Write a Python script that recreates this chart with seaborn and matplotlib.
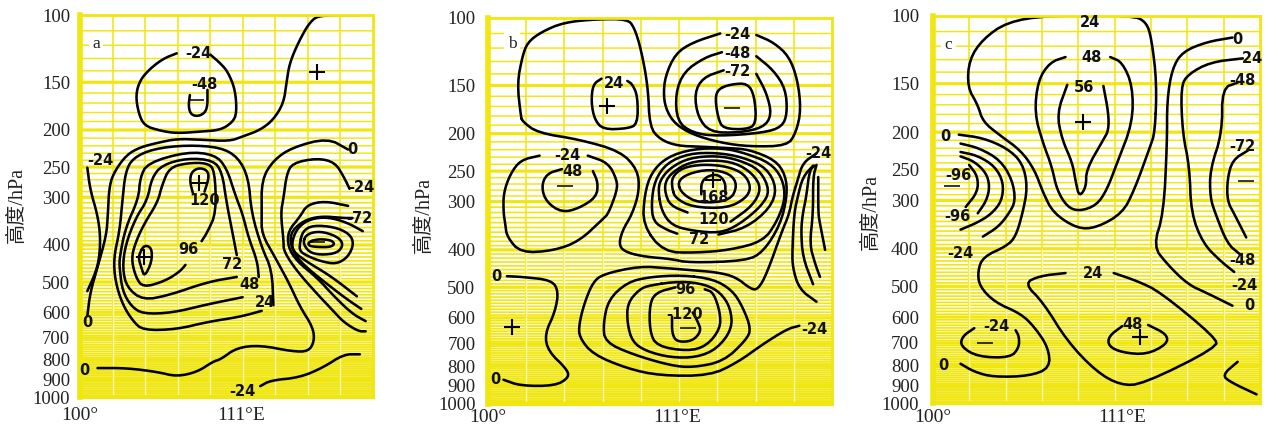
import numpy as np
import pandas as pd
import matplotlib
matplotlib.use("Agg")
import matplotlib.pyplot as plt
import seaborn as sns

# ---- contour traces: (longitude, pressure hPa) ----
A01 = [(106.6,126),(105.7,130),(104.8,138),(104.1,148),(103.8,162),(104.0,181),(104.4,195),(105.5,201),(106.6,204),(108.2,202),(109.6,200),(110.4,191),(110.7,181),(110.6,157),(110.1,141),(109.6,134),(108.9,127)]
A02 = [(107.5,162),(107.4,174),(107.6,183),(108.2,184),(108.7,177),(108.7,157)]
A03 = [(119.1,100),(116.4,100),(115.7,104),(114.9,118),(114.3,134),(114.1,150),(113.9,170),(113.2,188),(112.3,200),(111.1,208),(110.2,214),(108.2,212),(106.6,211),(105.3,216),(104.1,222),(103.2,232),(102.4,255),(102.0,279),(101.9,334),(101.8,377),(101.2,457),(100.7,532),(100.5,614)]
A04 = [(100.5,251),(100.7,287),(101.2,334),(101.4,382),(101.3,438),(101.0,479),(100.5,528)]
A05 = [(113.2,575),(113.1,465),(112.4,406),(111.7,329),(111.5,267),(110.8,236),(109.6,222),(107.3,219),(105,224),(103.6,237),(103.1,258),(102.9,305),(102.7,368),(102.3,432),(102.4,497),(102.9,572),(103.6,632),(104.3,669),(106.6,665),(108.7,636),(110.9,617),(112.4,595)]
A06 = [(112.2,485),(112.1,441),(111.5,382),(111.1,332),(110.6,296),(110,251),(109.2,232),(107.3,228),(104.6,244),(104.1,267),(104,302),(103.1,361),(102.7,432),(102.7,460),(102.9,528),(103.5,579),(104.3,606),(106.3,602),(108.7,572),(111.1,548)]
A07 = [(110.7,425),(110.4,370),(110,309),(109.7,258),(109.1,240),(107.3,237),(105.6,247),(104.9,267),(104.6,305),(103.8,340),(103.1,400),(102.9,460),(103.2,517),(104.3,558),(106.1,541),(108.7,500),(110.7,485)]
A08 = [(108.3,391),(108.7,370),(109.3,329),(109.2,255),(108.7,244),(107.3,244),(106.1,251),(105.6,279),(105.3,309),(104.4,351),(103.8,393),(103.5,434),(103.8,485),(104.3,517),(105.8,497),(106.8,470),(107.2,451)]
A09 = [(107.7,292),(107.5,273),(107.6,258),(108.1,251),(108.7,255),(108.8,267),(108.5,290)]
A10 = [(104.1,418),(104.4,400),(104.9,407),(104.9,443),(104.4,485),(104.2,460),(104,434),(104.1,418)]
A11 = [(118.3,225),(116.9,210),(114.5,222),(113.2,240),(112.4,270),(112.4,332),(112.4,374),(113.3,430),(114.3,506),(115,579),(115.9,657),(116,714),(115.6,760),(114.5,760),(112.3,732),(110.7,743),(109.6,797),(109.1,807),(108,860),(106.6,884),(105.3,860),(103.2,840),(101.2,840)]
A12 = [(112.3,937),(113,905),(115,889),(116.6,837),(118,773),(119.1,773)]
A13 = [(115.6,393),(116.2,386),(117.1,388),(117.4,397),(117.1,405),(116.2,405),(115.6,402),(115.6,393)]
A14 = [(115.2,393),(115.5,374),(116.4,368),(117.5,379),(118,397),(117.6,420),(116.4,425),(115.6,417),(115.2,393)]
A15 = [(115,397),(115.2,368),(115.9,355),(117.4,359),(118.4,374),(118.7,397),(118.3,430),(117.5,449),(116.4,441),(115.5,427),(115,415),(115,397)]
A16 = [(119.3,368),(118.2,349),(116.9,338),(115.7,342),(114.9,359),(114.5,386),(114.5,415),(115.5,443),(117.1,482),(118.9,545)]
A17 = [(118.6,340),(118,340),(116.4,336),(115.2,346),(114.3,374),(114.5,415),(115.2,449),(116.6,497),(118.2,554),(119.2,588)]
A18 = [(118.3,316),(116.7,307),(115.5,314),(115,338),(114.2,368),(114.2,405),(114.8,441),(116.2,488),(117.4,548),(118.6,606),(119.5,633)]
A19 = [(118.4,285),(118,265),(117.4,243),(116.2,237),(114.5,244),(114.1,262),(113.9,300),(113.7,330),(113.9,391),(113.9,415),(114.8,468),(116.2,538),(117.3,596),(118,637),(119,673),(119.5,673)]

B01 = [(102,186),(101.9,179),(101.7,148),(102,126),(102.3,116),(103.1,109),(104.4,103),(106.3,101),(108.1,101),(108.5,106),(108.9,121),(109.3,151),(109.4,192),(110,207),(111,215),(112.3,216),(114.1,218),(115.2,220),(116.7,234),(117.3,256),(117.4,289),(117,344),(116,405),(115,427),(111.7,432),(110.6,422),(109.2,417),(108.1,407),(107.6,391),(107.8,357),(108.4,322),(108.8,281),(108.7,248),(107.7,222),(105.3,207),(102.9,199),(102,186)]
B02 = [(119.1,225),(118.3,238),(118,264),(117.7,292),(117.5,324),(117.1,357),(116.2,462),(115.7,506),(115.3,506),(114.4,470),(113.3,457),(111.7,451),(110.4,446),(108.8,441),(106.7,462),(106.1,485),(105.6,550),(105.3,622),(105.3,673),(106.1,746),(108.1,812),(110,847),(112.9,847),(114.5,783),(116,701),(117.4,641),(118.1,629)]
B03 = [(109,345),(110.2,405),(112.1,407),(114.1,400),(116,380),(116.8,338),(117.3,294),(117.1,260),(116.4,238),(115,225),(113.7,218),(111.9,219),(110.4,230),(109.5,252),(109.1,287),(109,345)]
B04 = [(113.4,365),(115,351),(116.4,312),(116.8,277),(116.2,245),(114.8,230),(113.3,224),(111.7,225),(110.4,238),(109.7,264),(109.5,301),(109.6,338),(110.4,355),(111,363)]
B05 = [(109.9,283),(110.1,318),(110.7,346),(111.9,357),(113.5,362),(114.6,344),(115.9,308),(116.4,281),(115.8,248),(114.6,234),(113.3,228),(111.7,231),(110.6,245),(110,264),(109.9,283)]
B06 = [(111.6,320),(110.6,307),(110.3,285),(110.3,267),(110.7,252),(111.7,237),(113.1,234),(114.4,238),(115.4,254),(115.9,277),(115.4,307),(114.1,338)]
B07 = [(110.7,277),(110.9,294),(111.9,310),(113.9,312),(115,294),(115.3,275),(114.9,254),(113.9,243),(112.5,240),(111.3,245),(110.7,259),(110.7,277)]
B08 = [(111,267),(111.3,287),(112.3,303),(114.1,298),(114.5,272),(114.1,254),(112.9,247),(111.6,254),(111,267)]
B09 = [(112.4,287),(112.4,267),(112.8,257),(113.4,255),(113.8,267),(113.8,285)]
B10 = [(115.6,111),(116.6,116),(117.5,126),(118,145),(118.2,174),(117.9,199),(117.4,215),(115.2,216),(113.5,211),(111.9,201),(110.9,189),(110.4,175),(110.2,160),(110.3,142),(110.9,124),(111.9,116),(113.5,110)]
B11 = [(115.6,126),(116.6,137),(117.3,153),(117.4,177),(117.1,192),(116,199),(113.3,203),(111.9,199),(111,186),(110.9,157),(111.4,138),(112.6,127),(113.6,123)]
B12 = [(115.6,140),(116.2,157),(116.5,179),(116,193),(114.5,199),(112.9,198),(112.2,181),(112,157),(112.5,143),(113.7,137)]
B13 = [(113.4,153),(114.1,149),(115.1,148),(115.5,160),(115.6,189),(115,195),(113.7,194),(113.4,184),(113.2,162),(113.4,153)]
B14 = [(106.6,144),(106.1,149),(106,166),(106.2,184),(106.7,195),(108.1,194),(108.7,189),(108.7,160),(108.4,149),(108.1,146)]
B15 = [(105.8,228),(107,238),(107.5,264),(107.5,281),(107,322),(106.7,332),(105.3,380),(103.8,402),(101.9,407),(101.1,370),(101,342),(100.9,320),(100.9,285),(101.3,254),(101.9,234),(103,228)]
B16 = [(106.1,250),(106.4,268),(106.3,292),(105.3,312),(104.3,320),(103.4,301),(103.1,275),(103.4,254),(104.3,247)]
B17 = [(101.1,468),(102,470),(103.7,479),(104.1,512),(103.9,579),(103.3,661),(103.5,732),(104.6,816),(104.7,857),(103.9,900),(101.9,900),(100.9,868)]
B18 = [(111.3,465),(113.1,476),(114.2,509),(114.8,561),(115.3,641),(115,685),(113.7,778),(111.9,807),(110.6,797),(108.4,746),(106.8,693),(106.7,622),(107,538),(108.1,485),(109.4,470),(111.3,465)]
B19 = [(109.4,494),(111.2,482),(112.6,491),(113.5,515),(114.1,565),(114.2,641),(113.3,723),(112.1,760),(110.6,760),(109.2,732),(108.4,693),(108.1,622),(108.1,550),(108.8,506),(109.4,494)]
B20 = [(110.9,500),(109.8,515),(109.4,550),(109.4,649),(109.8,710),(111.6,732),(112.7,710),(113.5,641),(113.5,581),(113.1,515),(112.6,506)]
B21 = [(110.7,596),(110.7,661),(111,693),(111.9,689),(112.4,649),(112.2,614),(111.9,581)]
B22 = [(118.9,242),(118.3,259),(118,292),(117.8,322),(117.7,393),(117.7,443),(118.1,506),(119.1,545)]
B23 = [(119,242),(118.7,248),(118.5,292),(118.3,322),(118.2,357),(118.3,418),(118.9,491)]
B24 = [(119.1,241),(118.9,259),(118.9,322),(118.7,386),(119,432),(119.3,470)]
B25 = [(119.2,259),(119.2,322),(119.3,342),(119.6,400)]

C01 = [(112.9,200),(113,149),(112.7,115),(112.4,104),(111.6,100),(106.6,100),(104.3,104),(102.9,115),(102.1,130),(102,153),(102.6,170),(102.9,188),(103.9,204),(105.1,223),(105.9,250),(106.4,287),(107,324),(108.4,355),(109.5,353),(111,324),(111.7,282),(112.6,219),(112.9,200)]
C02 = [(107.7,128),(106.8,132),(106.1,147),(105.9,179),(106.4,214),(106.9,245),(107.2,282),(107.8,312),(108.5,320),(109.5,309),(110.1,282),(110.7,240),(111.6,189),(111.6,152),(111,132),(110.3,128)]
C03 = [(107.8,151),(107.2,179),(107.5,209),(108.1,240),(108.3,270),(108.5,294),(108.9,277),(108.9,250),(109.9,209),(110.2,198),(110.2,179),(109.9,152)]
C04 = [(117.4,114),(115.9,117),(114.5,124),(113.9,137),(113.6,165),(113.6,214),(113.4,324),(112.8,394),(113.6,438),(114.8,494),(115.9,520),(117.4,561)]
C05 = [(118,129),(116.1,132),(114.8,142),(114.4,153),(114.5,201),(114.9,245),(115,324),(115.7,388),(116.7,430),(117.5,459)]
C06 = [(117.7,149),(116.8,154),(116.8,201),(116.1,250),(116.1,294),(116.4,324),(117.1,388),(117.8,412)]
C07 = [(118.3,223),(117.4,236),(117.1,265),(117.1,301),(117.5,325),(118.2,374)]
C08 = [(101.5,203),(102.9,207),(104.3,220),(105.2,240),(105.5,277),(105.2,325),(104.8,372),(104.3,393),(102.9,420),(102.6,457),(102.7,500),(103.6,550),(105.1,588),(105.9,637),(106.7,719),(106.8,812),(105.6,852),(103.5,857),(102.4,831),(101.6,792)]
C09 = [(101.6,214),(102.7,220),(103.9,236),(104.6,265),(104.8,301),(104.4,325),(103.8,351),(102.9,372)]
C10 = [(101.6,225),(102.6,230),(103.6,245),(104.1,270),(104,301),(103.4,325),(102.6,342),(101.6,357)]
C11 = [(101.6,231),(102.4,238),(103.1,255),(103.3,277),(103.1,301),(102.6,324)]
C12 = [(102.1,243),(102.6,260),(102.6,285),(101.9,312)]
C13 = [(107.7,462),(106.2,470),(105.3,491),(106.4,550),(107.8,693),(109.5,831),(110.9,900),(112.2,894),(116.5,719),(116.4,677),(113.2,517),(111.9,485),(110.5,462)]
C14 = [(111,633),(110.2,673),(110.2,714),(111,741),(112.4,750),(113.6,705),(113.6,665),(112.5,629)]
C15 = [(102.4,641),(101.7,673),(101.6,714),(102.6,760),(104.5,764),(105,719),(105,673),(104.8,649)]
C16 = [(117.7,783),(116.8,847),(117.3,884),(118.8,950)]

CONTOURS_A = [A01,A02,A03,A04,A05,A06,A07,A08,A09,A10,A11,A12,A13,A14,A15,A16,A17,A18,A19]
CONTOURS_B = [B01,B02,B03,B04,B05,B06,B07,B08,B09,B10,B11,B12,B13,B14,B15,B16,B17,B18,B19,B20,B21,B22,B23,B24,B25]
CONTOURS_C = [C01,C02,C03,C04,C05,C06,C07,C08,C09,C10,C11,C12,C13,C14,C15,C16]

# ---- contour labels: (text, longitude, pressure) ----
LABELS_A = [("-24",108.1,126),("-48",108.5,152),("-24",101.4,240),("120",108.5,305),("96",107.4,412),("72",110.4,451),("48",111.6,509),("24",112.6,565),("0",118.6,225),("-24",119.2,283),("-72",119.1,340),("0",100.5,640),("0",100.3,850),("-24",111.1,970)]
LABELS_B = [("-24",114.5,111),("-48",114.5,124),("-72",114.5,138),("24",107.3,148),("-24",104.6,228),("48",104.9,250),("168",113.1,292),("120",113.1,334),("72",112.3,377),("96",111.5,506),("-120",111.4,588),("-24",119.2,225),("-24",119,645),("0",100.5,468),("0",100.4,868)]
LABELS_C = [("24",109.1,104),("48",109.2,128),("56",108.8,153),("0",117.7,115),("-24",118.4,129),("-48",118,147),("-72",118,218),("0",100.7,205),("-96",101.5,258),("-96",101.4,330),("-24",101.6,412),("-48",118,430),("-24",118.1,497),("0",118.4,560),("24",109.3,462),("48",111.6,627),("-24",103.7,636),("0",100.6,800)]

# ---- high / low symbols: (longitude, pressure) ----
PLUS_A = [(116.2,141),(108.1,275),(104.4,430)]
DASH_A = [(107.9,167),(116.2,393)]
PLUS_B = [(106.9,170),(101.4,633),(113.1,264)]
DASH_B = [(114.2,172),(104.5,273),(111.6,637)]
PLUS_C = [(108.7,188),(112,677)]
DASH_C = [(101.1,275),(118.2,268),(103,701)]

PANEL_NAMES = ["a", "b", "c"]
PANEL_NAME_POS = [(101.1,119),(101.4,117),(100.9,119)]
LEVEL_TICKS = [100,150,200,250,300,400,500,600,700,800,900,1000]
LON_TICKS = [100, 111]
LON_LABELS = ["100°", "111°E"]
XMAX = [120, 120, 119]

YELLOW = "#F0E612"


def rounded(points, passes=2):
    """Round off the traced polyline, in the axis' own log-pressure space."""
    p = np.array(points, float)
    p[:, 1] = np.log10(p[:, 1])
    closed = np.allclose(p[0], p[-1])
    for _ in range(passes):
        a, b = p[:-1], p[1:]
        q = np.empty((2 * len(a), 2))
        q[0::2] = 0.75 * a + 0.25 * b
        q[1::2] = 0.25 * a + 0.75 * b
        if closed:
            p = np.vstack([q, q[:1]])
        else:
            p = np.vstack([p[:1], q, p[-1:]])
    return p[:, 0], 10 ** p[:, 1]


def level_width(level):
    if level in LEVEL_TICKS:
        return 2.3
    if level < 300:
        return 1.05
    if level < 600:
        return 1.2
    return 1.3


sns.set_theme(style="white")
plt.rcParams["font.family"] = ["Liberation Serif", "Noto Sans CJK SC"]

W, H = 1267, 428
fig = plt.figure(figsize=(W / 100, H / 100), dpi=100)
BOXES = [(80, 373, 15, 397), (488, 832, 17.5, 403.5), (933, 1260, 15.5, 403)]
YLABEL_POS = [(-0.18, 0.503), (-0.157, 0.488), (-0.159, 0.493)]
PAD_Y = [7, 9, 10]
PAD_X = [7, 4, 4]

for i, (l, r, t, b) in enumerate(BOXES):
    ax = fig.add_axes([l / W, 1 - b / H, (r - l) / W, (b - t) / H])
    ax.set_yscale("log")
    ax.set_xlim(100, XMAX[i])
    ax.set_ylim(1000, 100)
    ax.set_axisbelow(True)

    ax.set_yticks(LEVEL_TICKS)
    ax.set_yticklabels([str(v) for v in LEVEL_TICKS])
    ax.set_yticks([], minor=True)
    ax.set_xticks(LON_TICKS)
    ax.set_xticklabels(LON_LABELS)
    ax.grid(False)
    for level in np.arange(100, 1001, 10):
        ax.axhline(level, color=YELLOW, lw=level_width(int(level)), zorder=0.5, snap=False)
    for lon in np.linspace(100, XMAX[i], 10)[1:-1]:
        ax.axvline(lon, color=YELLOW, lw=1.15, zorder=0.6)
        ax.vlines(lon, 400, 1000, color="#FBF7B0", lw=1.0, zorder=0.7)
    ax.tick_params(which="both", length=0)
    ax.tick_params(axis="y", which="major", labelsize=13.5, pad=PAD_Y[i], labelcolor="#222222")
    ax.tick_params(axis="x", which="major", labelsize=14, pad=PAD_X[i], labelcolor="#222222")
    for side, sp in ax.spines.items():
        sp.set_color(YELLOW)
        sp.set_linewidth(2.0)
    ax.spines["left"].set_linewidth(4.0)
    ax.spines["bottom"].set_linewidth(3.0)

    contours = [CONTOURS_A, CONTOURS_B, CONTOURS_C][i]
    frames = []
    for k, c in enumerate(contours):
        x, y = rounded(c)
        frames.append(pd.DataFrame({"lon": x, "hPa": y, "contour": k}))
    table = pd.concat(frames, ignore_index=True)
    sns.lineplot(data=table, x="lon", y="hPa", units="contour", estimator=None,
                 sort=False, color="black", lw=1.85, ax=ax, legend=False,
                 solid_capstyle="round", solid_joinstyle="round")

    plus = [PLUS_A, PLUS_B, PLUS_C][i]
    dash = [DASH_A, DASH_B, DASH_C][i]
    ax.plot(*zip(*plus), ls="", marker="+", ms=11, mew=1.5, color="black")
    ax.plot(*zip(*dash), ls="", marker="_", ms=11, mew=1.1, color="black")

    for text, lon, hpa in [LABELS_A, LABELS_B, LABELS_C][i]:
        ax.text(lon, hpa, text, ha="center", va="center", fontsize=10.5,
                fontweight="bold", family="DejaVu Sans", color="#111111", clip_on=False)
    nx, ny = PANEL_NAME_POS[i]
    ax.text(nx, ny, PANEL_NAMES[i], ha="center", va="center", fontsize=12.5, color="#222222",
            bbox=dict(facecolor="white", edgecolor="none", pad=2.5))

    ax.set_xlabel("")
    ax.set_ylabel("高度/hPa", fontsize=14.5, color="#222222")
    ax.yaxis.set_label_coords(*YLABEL_POS[i])

fig.savefig("out.png", dpi=100, facecolor="white")
